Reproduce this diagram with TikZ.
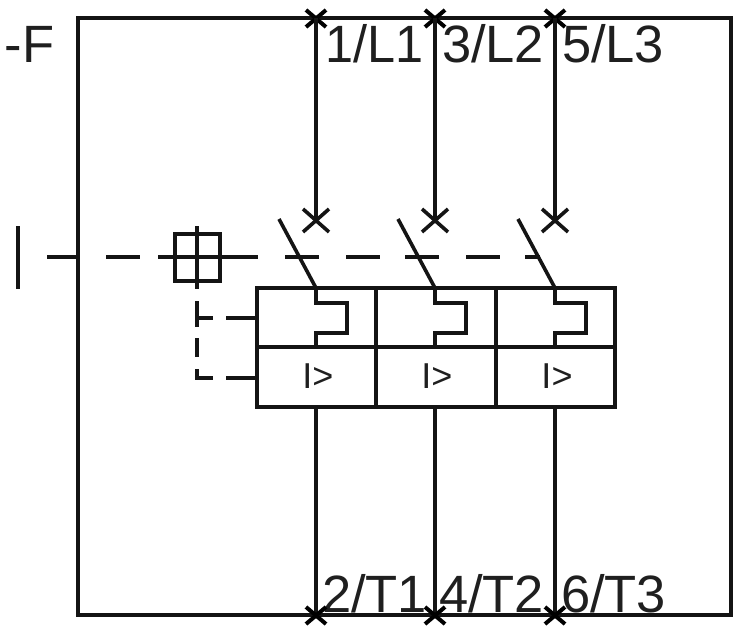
\documentclass[tikz,border=0pt]{standalone}
\usepackage{fontspec}
\setmainfont{Liberation Sans}
\tikzset{
 wire/.style={line width=3.6pt,black!92},
 xwire/.style={line width=4pt,black},
 lbl/.style={inner sep=0pt,outer sep=0pt,anchor=base west,font=\fontsize{52.5}{52.5}\selectfont,text=black!88},
 trip/.style={inner sep=0pt,font=\fontsize{36}{36}\selectfont,text=black!88}
}
\begin{document}
\begin{tikzpicture}[x=1pt,y=-1pt]
\useasboundingbox (0,0) rectangle (734,626);
\fill[white] (0,0) rectangle (734,626);
% frame
\coordinate (fa) at (78,18); \coordinate (fb) at (731,18); \coordinate (fc) at (731,615); \coordinate (fd) at (78,615);
\draw[wire] (fa) -- (fb) -- (fc) -- (fd) -- cycle;
% labels
\node[lbl] (f) at (5,63) {-F};
\node[lbl,xscale=0.96] (l1) at (325,63) {1/L1};
\node[lbl] (l2) at (442,63) {3/L2};
\node[lbl] (l3) at (562,63) {5/L3};
\node[lbl] (t1) at (322,612) {2/T1};
\node[lbl] (t2) at (439,612) {4/T2};
\node[lbl] (t3) at (561,612) {6/T3};
% handle
\coordinate (h1) at (18,226); \coordinate (h2) at (18,289);
\draw[wire] (h1) -- (h2);
\coordinate (d0) at (47,257); \coordinate (d1) at (78,257);
\draw[wire] (d0) -- (d1);
\foreach \a/\b in {106/140,158/258,285/319,346/380,405/439,466/500,525/540}
  \draw[wire] (\a,257) -- (\b,257);
% square
\draw[wire] (175,234) rectangle (220,281);
\coordinate (v1) at (197,226); \coordinate (v2) at (197,289);
\draw[wire] (v1) -- (v2);
% dashed left connections
\draw[wire] (197,301) -- (197,327);
\draw[wire] (197,318) -- (213,318);
\draw[wire] (226,318) -- (257,318);
\draw[wire] (197,338) -- (197,357);
\draw[wire] (197,369) -- (197,378) -- (213,378);
\draw[wire] (226,378) -- (257,378);
% relay box
\draw[wire] (257,288) rectangle (615,407);
\draw[wire] (257,347) -- (615,347);
\draw[wire] (376,288) -- (376,407);
\draw[wire] (496,288) -- (496,407);
\foreach \x/\n in {316/a,435/b,555/c}{
  % top crosses
  \draw[xwire] (\x-10,10) -- (\x+10,27);
  \draw[xwire] (\x+10,10) -- (\x-10,27);
  \draw[wire] (\x,18) -- (\x,221);
  % lower crosses
  \draw[wire] (\x-13,209) -- (\x+13,232);
  \draw[wire] (\x+13,209) -- (\x-13,232);
  % blade
  \draw[wire] (\x-37,219) -- (\x,288);
  % thermal
  \draw[wire] (\x,288) -- (\x,303) -- (\x+31,303) -- (\x+31,333) -- (\x,333) -- (\x,347);
  % trip
  \node[trip] (trip\n) at (\x+2,376.5) {I>};
  % output
  \draw[wire] (\x,407) -- (\x,615);
  \draw[xwire] (\x-10,607) -- (\x+10,624);
  \draw[xwire] (\x+10,607) -- (\x-10,624);
}
\end{tikzpicture}
\end{document}
